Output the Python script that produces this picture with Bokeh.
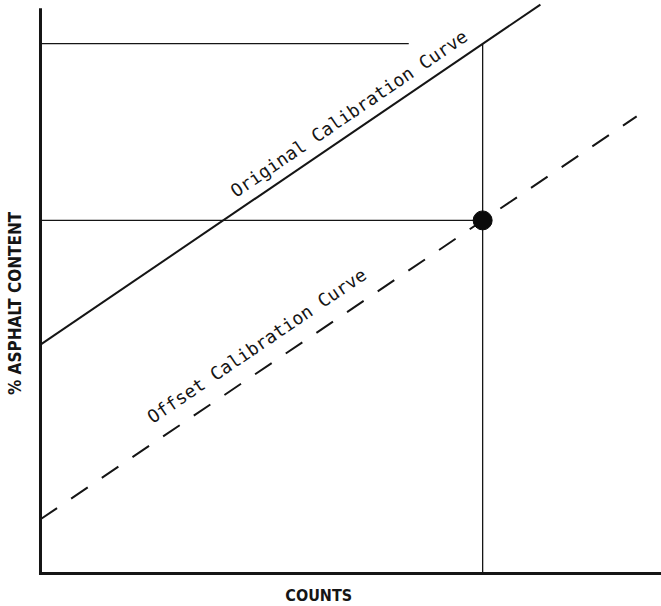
from bokeh.plotting import figure
from bokeh.models import Range1d, Label
from bokeh.embed import file_html
from bokeh.resources import INLINE

# ---- data (arbitrary units) ----
original_x = [0.0, 80.5]
original_y = [40.5, 100.7]
offset_x = [0.0, 96.0]
offset_y = [9.6, 80.9]
sample_counts = 71.2
pct_original = 93.8
pct_offset = 62.5
top_line_end = 59.3
axis_x = [0.0, 100.0]
axis_y = [0.0, 99.8]

x_title = "COUNTS"
y_title = "% ASPHALT CONTENT"
original_label = "Original Calibration Curve"
offset_label = "Offset Calibration Curve"

# plot frame covers the whole canvas; the axes are drawn as lines in data space
p = figure(width=661, height=606, output_backend="svg", toolbar_location=None,
           x_range=Range1d(-6.44, 100), y_range=Range1d(-5.84, 101.42),
           x_axis_location=None, y_axis_location=None,
           min_border_left=0, min_border_right=0, min_border_top=0,
           min_border_bottom=0)
p.outline_line_color = None
p.xgrid.visible = False
p.ygrid.visible = False
p.background_fill_color = "white"
p.border_fill_color = "white"

ink = "#151515"
# axes
p.line(axis_x, [0, 0], line_color=ink, line_width=3, line_cap="square")
p.line([0, 0], axis_y, line_color=ink, line_width=3, line_cap="square")

# reference lines
p.line([0, top_line_end], [pct_original, pct_original], line_color=ink, line_width=1.3)
p.line([0, sample_counts], [pct_offset, pct_offset], line_color=ink, line_width=1.3)
p.line([sample_counts, sample_counts], [0, pct_original], line_color=ink, line_width=1.3)

# calibration curves
p.line(original_x, original_y, line_color=ink, line_width=2)
p.line(offset_x, offset_y, line_color=ink, line_width=2, line_dash="20 17")

# measured point
p.scatter([sample_counts], [pct_offset], size=19, color="#0a0a0a")

ang = 0.597
mono = "DejaVu Sans Mono"
p.add_layout(Label(x=30.9, y=67.4, text=original_label, angle=ang,
                   text_font=mono, text_font_size="18px", text_color=ink,
                   text_align="left", text_baseline="alphabetic"))
p.add_layout(Label(x=17.5, y=27.4, text=offset_label, angle=ang,
                   text_font=mono, text_font_size="18px", text_color=ink,
                   text_align="left", text_baseline="alphabetic"))

cond = "'Liberation Sans Narrow', 'DejaVu Sans Condensed', 'Roboto Condensed', sans-serif"
p.add_layout(Label(x=44.8, y=-3.85, text=x_title, text_font=cond,
                   text_font_style="bold", text_font_size="16px", text_color=ink,
                   text_align="center", text_baseline="middle"))
p.add_layout(Label(x=-4.03, y=47.8, text=y_title, angle=1.5708, text_font=cond,
                   text_font_style="bold", text_font_size="17px", text_color=ink,
                   text_align="center", text_baseline="middle"))

open("out.html", "w").write(file_html(p, INLINE))
